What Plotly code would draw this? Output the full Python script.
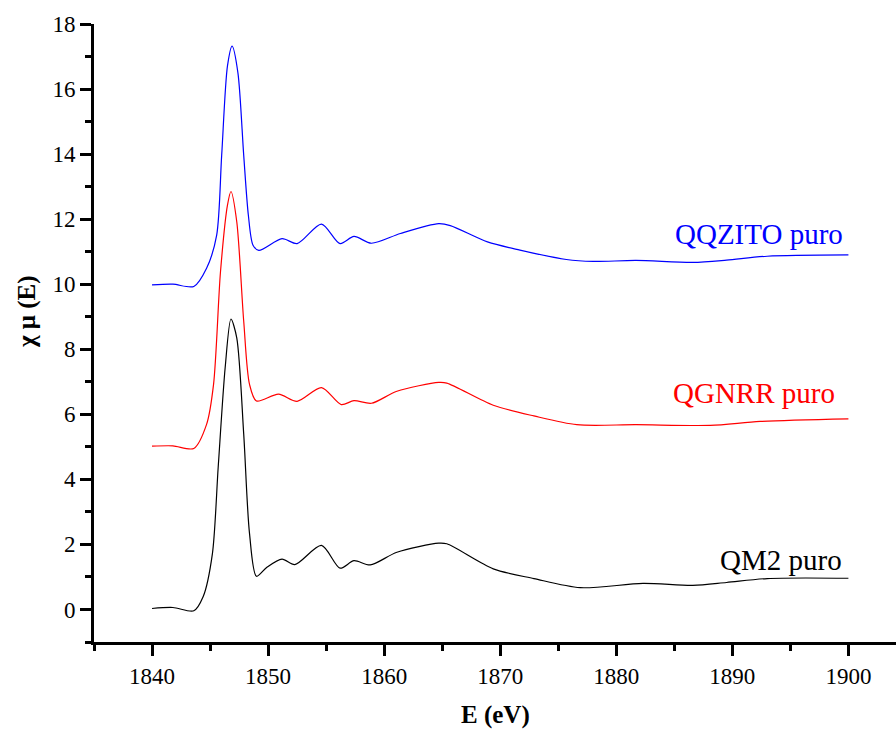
import plotly.graph_objects as go

# энергия (eV) и значения спектров
e_qqzito = [1840, 1841.8, 1843.6, 1844.7, 1845.57, 1846.0, 1846.5, 1846.9, 1847.4, 1847.9,
            1848.3, 1848.7, 1849.2, 1851.2, 1852.5, 1854.6, 1856.2, 1857.4, 1858.9, 1861.4,
            1864.7, 1865.7, 1868.9, 1871.7, 1875.7, 1878.0, 1881.7, 1886.6, 1889.5, 1893.0, 1900]
v_qqzito = [9.98, 10.0, 9.93, 10.49, 11.51, 13.96, 16.71, 17.32, 16.5, 13.96,
            12.12, 11.2, 11.04, 11.4, 11.25, 11.85, 11.25, 11.47, 11.26, 11.56,
            11.86, 11.8, 11.3, 11.05, 10.76, 10.7, 10.73, 10.67, 10.74, 10.86, 10.9]

e_qgnrr = [1840, 1841.8, 1843.6, 1844.7, 1845.3, 1845.9, 1846.5, 1846.8, 1847.3, 1847.9,
           1848.4, 1849.0, 1850.9, 1852.5, 1854.6, 1856.3, 1857.4, 1858.9, 1861.1, 1864.7,
           1865.4, 1869.4, 1872.9, 1876.6, 1881.7, 1888.1, 1892.4, 1900]
v_qgnrr = [5.02, 5.03, 4.95, 5.69, 6.92, 10.39, 12.43, 12.85, 11.92, 8.86,
           6.92, 6.41, 6.62, 6.4, 6.82, 6.3, 6.42, 6.34, 6.71, 6.98,
           6.96, 6.28, 5.95, 5.68, 5.68, 5.66, 5.78, 5.86]

e_qm2 = [1840, 1841.8, 1843.6, 1844.4, 1845.2, 1845.7, 1846.3, 1846.8, 1847.3, 1847.9,
         1848.4, 1849.0, 1849.9, 1851.2, 1852.3, 1854.6, 1856.2, 1857.4, 1858.8, 1861.1,
         1864.7, 1865.4, 1869.4, 1872.9, 1876.9, 1882.3, 1886.6, 1889.5, 1893.0, 1900]
v_qm2 = [0.03, 0.06, -0.04, 0.39, 1.71, 4.37, 7.43, 8.93, 8.35, 5.39,
         2.33, 1.02, 1.3, 1.55, 1.38, 1.97, 1.27, 1.5, 1.37, 1.76,
         2.04, 2.02, 1.25, 0.95, 0.67, 0.8, 0.74, 0.83, 0.95, 0.96]

series = [
    ("QQZITO puro", e_qqzito, v_qqzito, "#0000ff", 1899.7, 11.55),
    ("QGNRR puro", e_qgnrr, v_qgnrr, "#ff0000", 1899.0, 6.66),
    ("QM2 puro", e_qm2, v_qm2, "#000000", 1899.6, 1.51),
]

font_name = "Times New Roman, Liberation Serif, serif"

fig = go.Figure()
for name, xs, ys, col, lx, ly in series:
    fig.add_trace(go.Scatter(x=xs, y=ys, mode="lines", name=name,
                             line=dict(color=col, width=1.2, shape="spline", smoothing=0.8)))
    fig.add_annotation(x=lx, y=ly, text=name, showarrow=False, xanchor="right", yanchor="middle",
                       font=dict(family=font_name, size=29, color=col))

# подписи осей
fig.add_annotation(x=0.501, y=-0.118, xref="paper", yref="paper", text="<b>E (eV)</b>",
                   showarrow=False, xanchor="center", yanchor="middle",
                   font=dict(family=font_name, size=25, color="black"))
fig.add_annotation(x=-0.0835, y=0.534, xref="paper", yref="paper", text="<b>χ μ (E)</b>",
                   showarrow=False, textangle=-90, xanchor="center", yanchor="middle",
                   font=dict(family=font_name, size=25, color="black"))

axis_common = dict(showgrid=False, zeroline=False, showline=True, linecolor="black", linewidth=3,
                   ticks="outside", ticklen=11, tickwidth=2.5, tickcolor="black",
                   tickfont=dict(family=font_name, size=23, color="black"))

fig.update_xaxes(range=[1835, 1904.1], tickvals=[1840, 1850, 1860, 1870, 1880, 1890, 1900],
                 minor=dict(ticks="outside", ticklen=6, tickwidth=2.5, tickcolor="black",
                            tickvals=[1835, 1845, 1855, 1865, 1875, 1885, 1895]),
                 **axis_common)
fig.update_yaxes(range=[-1, 18], tickvals=[0, 2, 4, 6, 8, 10, 12, 14, 16, 18],
                 minor=dict(ticks="outside", ticklen=6, tickwidth=2.5, tickcolor="black",
                            tickvals=[-1, 1, 3, 5, 7, 9, 11, 13, 15, 17]),
                 **axis_common)

fig.update_layout(width=896, height=733, plot_bgcolor="white", paper_bgcolor="white",
                  showlegend=False, margin=dict(l=94, r=0, t=24, b=91),
                  font=dict(family=font_name))

# убираем отступ страницы, чтобы фигура совпала с окном
fig.write_html("out.html", config={"displayModeBar": False},
               post_script="document.body.style.margin='0';document.body.style.overflow='hidden';")
